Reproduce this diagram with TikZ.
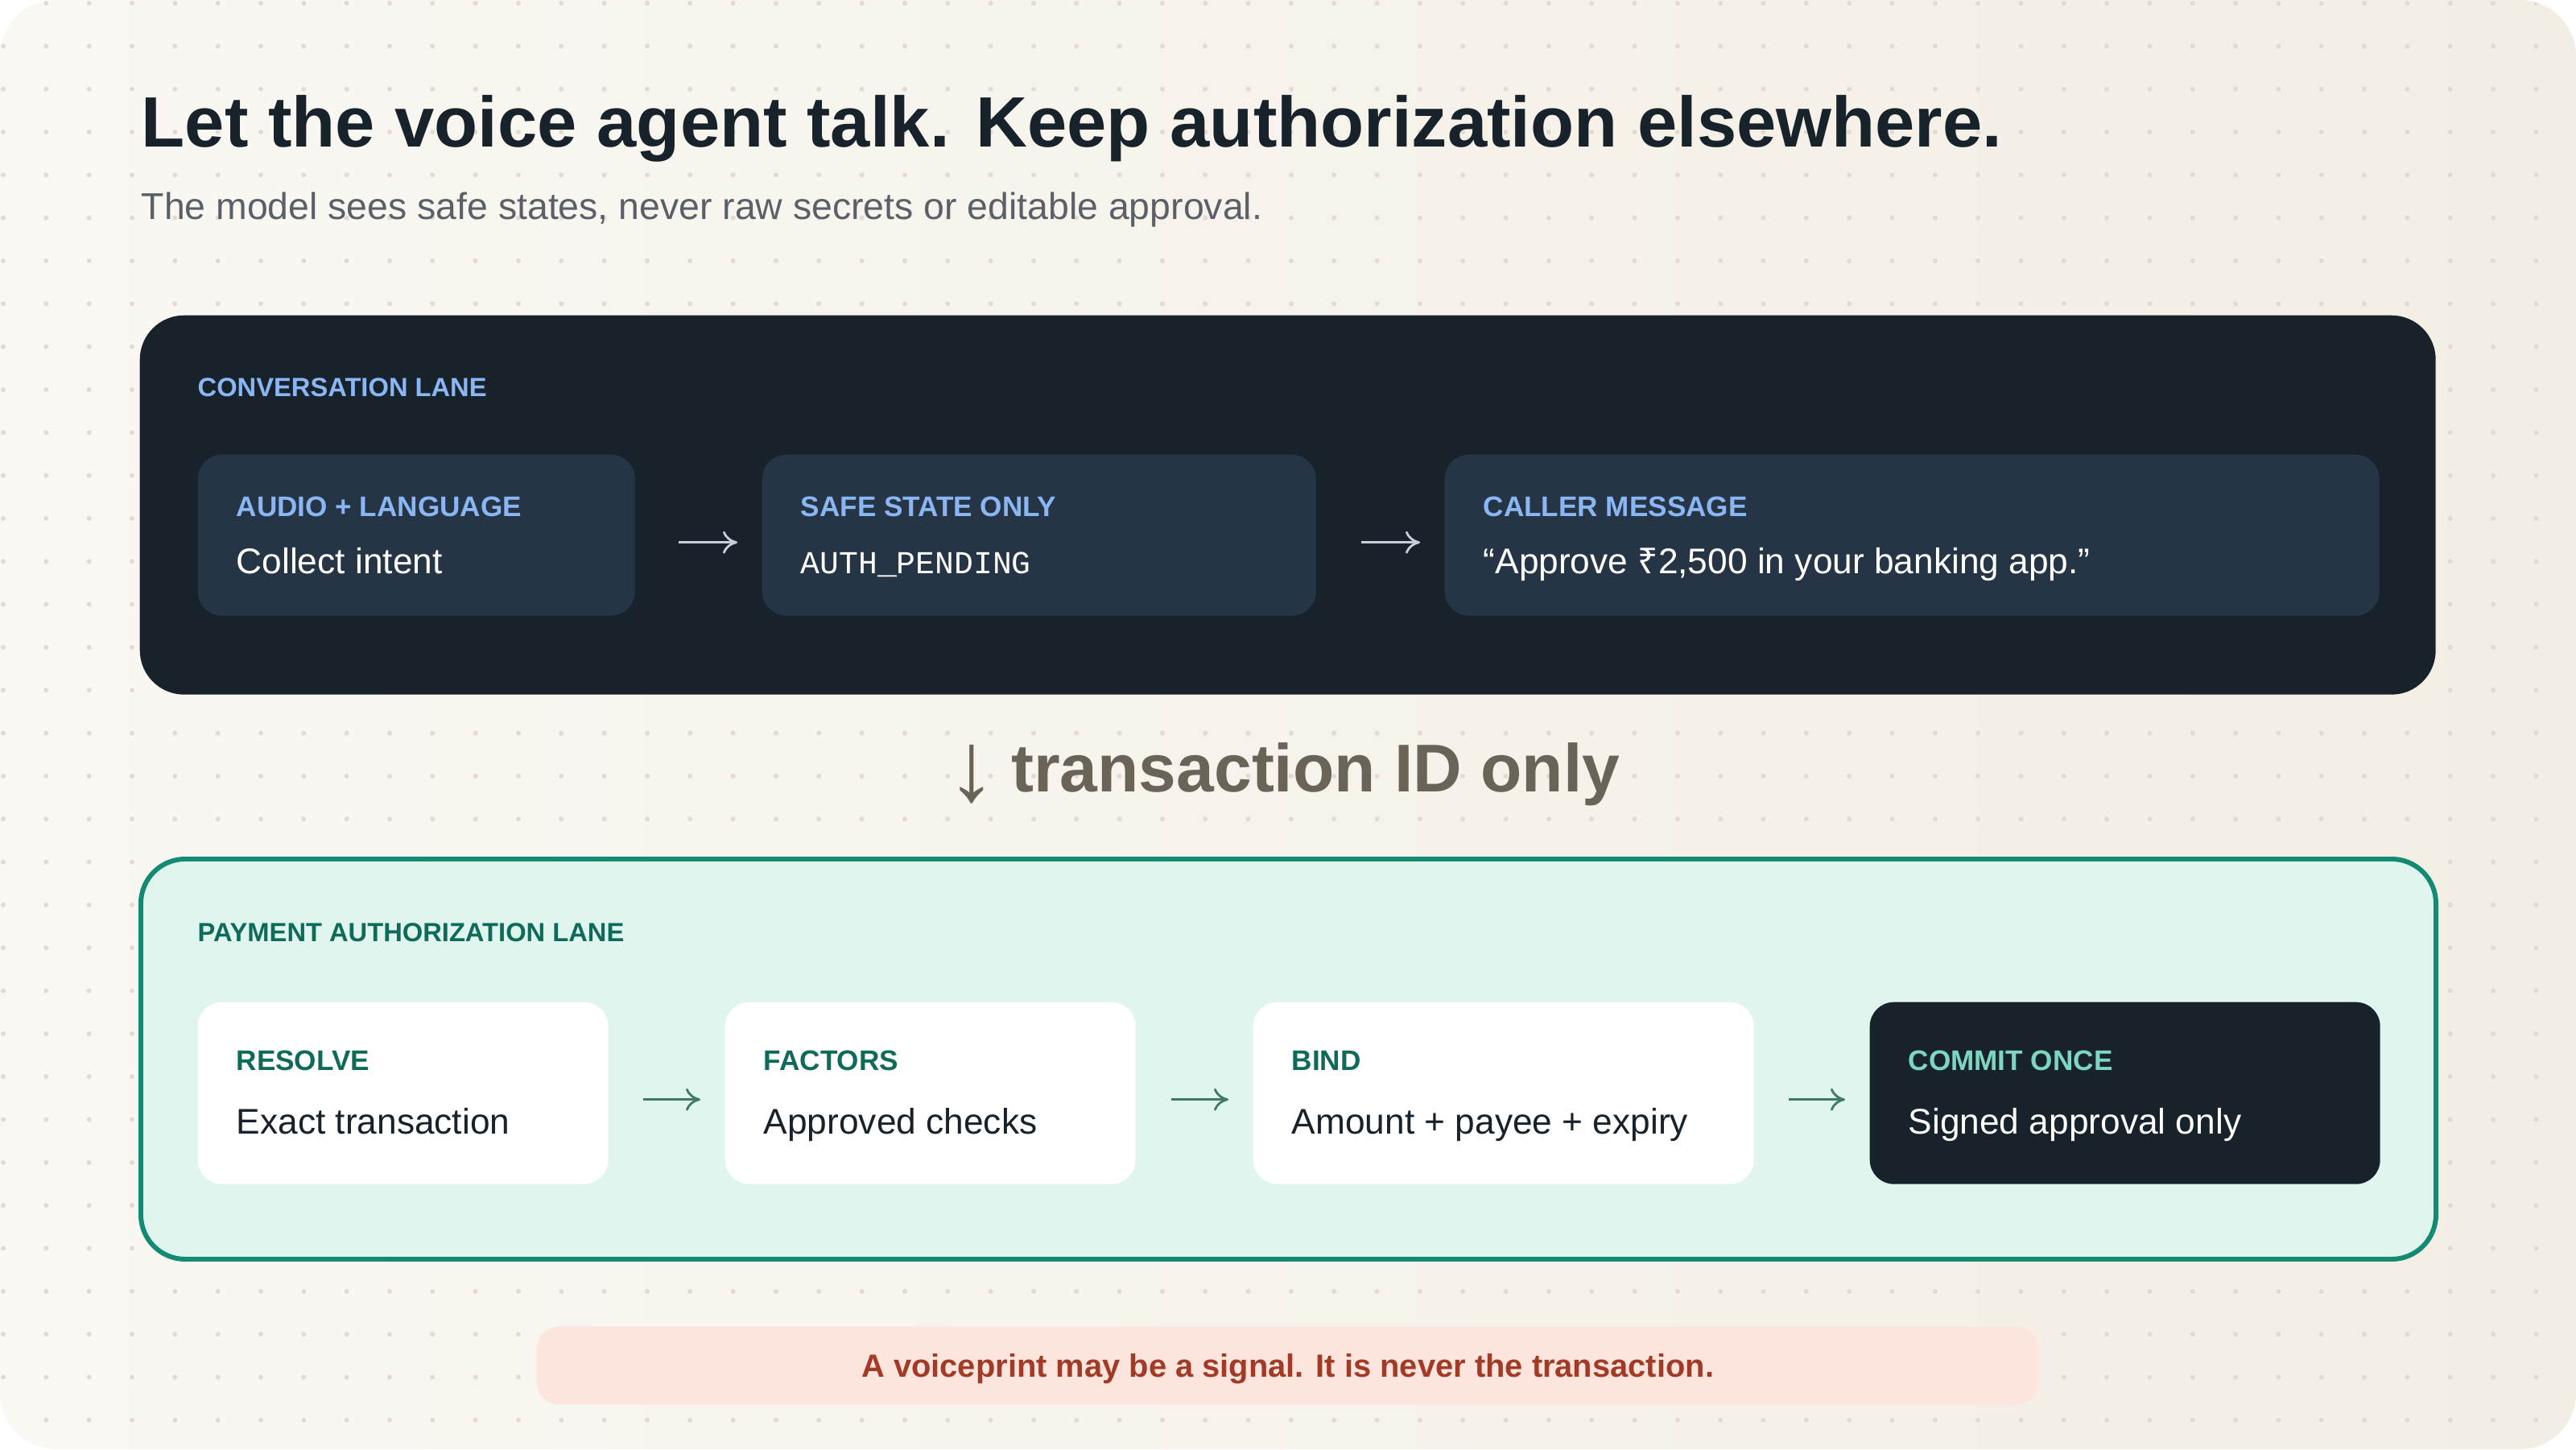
\documentclass[tikz,border=0pt]{standalone}
\usepackage{fontspec}
\setmainfont{Liberation Sans}
\newfontfamily\monofont{Liberation Mono}
\newfontfamily\rupeefont{Noto Sans}
\usepackage{xcolor}
\usetikzlibrary{arrows.meta}

\definecolor{paperA}{HTML}{FAF8F3}
\definecolor{paperB}{HTML}{F3EEE4}
\definecolor{dotgray}{HTML}{E0DCD3}
\definecolor{ink}{HTML}{17222A}
\definecolor{slate}{HTML}{5B6068}
\definecolor{cardblue}{HTML}{263546}
\definecolor{skyblue}{HTML}{8AB6F4}
\definecolor{cloud}{HTML}{C5D0DA}
\definecolor{stone}{HTML}{6A6458}
\definecolor{mint}{HTML}{DFF5EE}
\definecolor{teal}{HTML}{138A72}
\definecolor{deepteal}{HTML}{0F6B59}
\definecolor{pine}{HTML}{3F7A6A}
\definecolor{seafoam}{HTML}{7ED6C1}
\definecolor{blush}{HTML}{FDE5DE}
\definecolor{rust}{HTML}{A23A25}

\begin{document}
\begin{tikzpicture}[
	card/.style={rounded corners=0.3cm, inner sep=0pt, anchor=north west, minimum height=#1},
	tag/.style={anchor=base west, inner sep=0pt, font=\bfseries\fontsize{10pt}{12pt}\selectfont},
	body/.style={anchor=base west, inner sep=0pt, font=\fontsize{12.6pt}{15pt}\selectfont},
	lanetag/.style={anchor=base west, inner sep=0pt, font=\bfseries\fontsize{9.3pt}{11pt}\selectfont},
	flow/.style={-{Computer Modern Rightarrow[length=1.8mm, width=2.8mm]}, line width=0.8pt, shorten >=0.3cm}
]
	\useasboundingbox (0,0) rectangle (32,18);
	\fill[white] (0,0) rectangle (32,18);
	\shade[rounded corners=0.7cm, left color=paperA, right color=paperB] (0,0) rectangle (32,18);
	
	\begin{scope}
		\clip[rounded corners=0.7cm] (0,0) rectangle (32,18);
		\foreach \i in {0,...,60}
			\foreach \j in {0,...,33}
				\fill[dotgray] (0.04+0.5333*\i, 17.96-0.5333*\j) circle (0.03);
	\end{scope}
	
	\node[anchor=base west, inner sep=0pt, text=ink, font=\bfseries\fontsize{25.2pt}{30pt}\selectfont] (title) at (1.75,16.17) {Let the voice agent talk. Keep authorization elsewhere.};
	\node[anchor=base west, inner sep=0pt, text=slate, font=\fontsize{13.2pt}{16pt}\selectfont] (subtitle) at (1.75,15.27) {The model sees safe states, never raw secrets or editable approval.};
	
	% conversation lane
	\node[fill=ink, rounded corners=0.55cm, inner sep=0pt, anchor=north west, minimum width=28.52cm, minimum height=4.71cm] (talk) at (1.73,14.09) {};
	\node[lanetag, text=skyblue] (talk-tag) at (2.45,13.07) {CONVERSATION LANE};
	
	\node[card=2cm, fill=cardblue, minimum width=5.43cm] (audio) at (2.45,12.36) {};
	\node[tag, text=skyblue] (audio-tag) at ([shift={(0.48,-0.78)}]audio.north west) {AUDIO + LANGUAGE};
	\node[body, text=white] (audio-txt) at ([shift={(0.48,-1.49)}]audio.north west) {Collect intent};
	
	\node[card=2cm, fill=cardblue, minimum width=6.88cm] (safe) at (9.46,12.36) {};
	\node[tag, text=skyblue] (safe-tag) at ([shift={(0.48,-0.78)}]safe.north west) {SAFE STATE ONLY};
	\node[body, text=white, font=\monofont\fontsize{11.3pt}{14pt}\selectfont] (safe-txt) at ([shift={(0.48,-1.49)}]safe.north west) {AUTH\_PENDING};
	
	\node[card=2cm, fill=cardblue, minimum width=11.61cm] (caller) at (17.94,12.36) {};
	\node[tag, text=skyblue] (caller-tag) at ([shift={(0.48,-0.78)}]caller.north west) {CALLER MESSAGE};
	\node[body, text=white] (caller-txt) at ([shift={(0.48,-1.49)}]caller.north west) {“Approve {\rupeefont ₹}2,500 in your banking app.”};
	
	\draw[flow, cloud, shorten <=0.54cm] ([yshift=-0.09cm]audio.east) -- ([yshift=-0.09cm]safe.west);
	\draw[flow, cloud, shorten <=0.56cm] ([yshift=-0.09cm]safe.east) -- ([yshift=-0.09cm]caller.west);
	
	\node[anchor=base west, inner sep=0pt, text=stone, font=\bfseries\fontsize{23.9pt}{28pt}\selectfont] (handoff) at (11.76,8.17) {\raisebox{-0.12cm}{\mdseries\fontsize{35pt}{35pt}\selectfont ↓}\hspace{0.18cm}transaction ID only};
	
	% payment authorization lane
	\node[fill=mint, draw=teal, line width=1.7pt, rounded corners=0.55cm, inner sep=0pt, anchor=north west, minimum width=28.51cm, minimum height=4.97cm] (pay) at (1.72,7.36) {};
	\node[lanetag, text=deepteal] (pay-tag) at (2.45,6.31) {PAYMENT AUTHORIZATION LANE};
	
	\node[card=2.26cm, fill=white, minimum width=5.10cm] (resolve) at (2.45,5.56) {};
	\node[tag, text=deepteal] (resolve-tag) at ([shift={(0.48,-0.85)}]resolve.north west) {RESOLVE};
	\node[body, text=ink] (resolve-txt) at ([shift={(0.48,-1.64)}]resolve.north west) {Exact transaction};
	
	\node[card=2.26cm, fill=white, minimum width=5.10cm] (factors) at (9.00,5.56) {};
	\node[tag, text=deepteal] (factors-tag) at ([shift={(0.48,-0.85)}]factors.north west) {FACTORS};
	\node[body, text=ink] (factors-txt) at ([shift={(0.48,-1.64)}]factors.north west) {Approved checks};
	
	\node[card=2.26cm, fill=white, minimum width=6.22cm] (bind) at (15.56,5.56) {};
	\node[tag, text=deepteal] (bind-tag) at ([shift={(0.48,-0.85)}]bind.north west) {BIND};
	\node[body, text=ink] (bind-txt) at ([shift={(0.48,-1.64)}]bind.north west) {Amount + payee + expiry};
	
	\node[card=2.26cm, fill=ink, minimum width=6.34cm] (commit) at (23.22,5.56) {};
	\node[tag, text=seafoam] (commit-tag) at ([shift={(0.48,-0.85)}]commit.north west) {COMMIT ONCE};
	\node[body, text=white] (commit-txt) at ([shift={(0.48,-1.64)}]commit.north west) {Signed approval only};
	
	\draw[flow, pine, shorten <=0.43cm] ([yshift=-0.08cm]resolve.east) -- ([yshift=-0.08cm]factors.west);
	\draw[flow, pine, shorten <=0.44cm] ([yshift=-0.08cm]factors.east) -- ([yshift=-0.08cm]bind.west);
	\draw[flow, pine, shorten <=0.43cm] ([yshift=-0.08cm]bind.east) -- ([yshift=-0.08cm]commit.west);
	
	% footnote
	\node[fill=blush, rounded corners=0.28cm, inner sep=0pt, anchor=north west, minimum width=18.66cm, minimum height=0.97cm, text height=0.374cm, text depth=0.084cm, text=rust, font=\bfseries\fontsize{11.35pt}{13pt}\selectfont] (note) at (6.66,1.53) {A voiceprint may be a signal. It is never the transaction.};
	
\end{tikzpicture}
\end{document}
